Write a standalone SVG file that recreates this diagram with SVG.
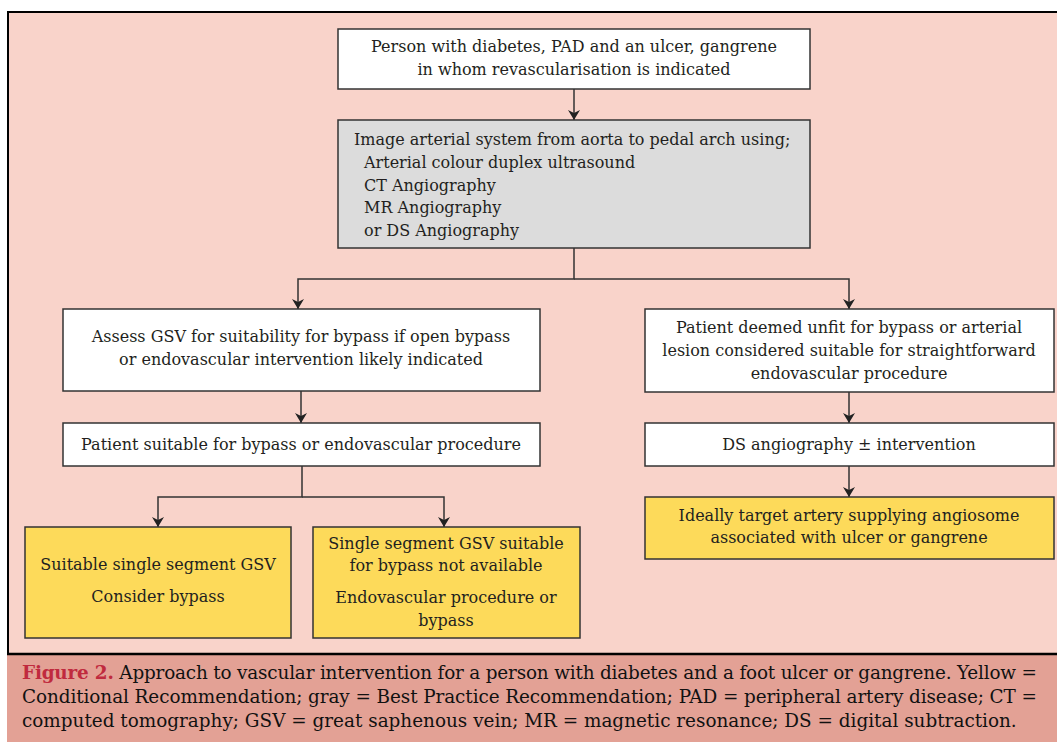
<svg xmlns="http://www.w3.org/2000/svg" width="1057" height="742" viewBox="0 0 1057 742">
<defs>
<style>
.t{font-family:"DejaVu Serif","Liberation Serif",serif;font-size:16px;fill:#231F20}
.c{text-anchor:middle}
.box{stroke:#333333;stroke-width:1.5}
.w{fill:#FFFFFF}
.g{fill:#DCDCDC}
.y{fill:#FDDA5A}
.conn{fill:none;stroke:#333333;stroke-width:1.5}
.cap{font-family:"DejaVu Serif","Liberation Serif",serif;font-size:18.4px;fill:#111}
</style>
<marker id="ah" viewBox="0 0 10 12" refX="10" refY="6" markerWidth="10" markerHeight="12" markerUnits="userSpaceOnUse" orient="auto">
<path d="M0,0 L10,6 L0,12 L3,6 Z" fill="#222222"/>
</marker>
</defs>
<rect x="0" y="0" width="1057" height="742" fill="#FFFFFF"/>
<rect x="8" y="12" width="1060" height="650" fill="#F9D3CA" stroke="#000" stroke-width="2"/>
<g id="caption">
<rect x="7" y="654" width="1060" height="100" fill="#E3A195"/>
<line x1="7" y1="654" x2="1057" y2="654" stroke="#000" stroke-width="2.5"/>
<text class="cap" x="22" y="679" textLength="1015" lengthAdjust="spacing"><tspan font-weight="bold" fill="#C02A3E">Figure 2.</tspan> Approach to vascular intervention for a person with diabetes and a foot ulcer or gangrene. Yellow =</text>
<text class="cap" x="22" y="703" textLength="1015" lengthAdjust="spacing">Conditional Recommendation; gray = Best Practice Recommendation; PAD = peripheral artery disease; CT =</text>
<text class="cap" x="22" y="727">computed tomography; GSV = great saphenous vein; MR = magnetic resonance; DS = digital subtraction.</text>
</g>
<g id="connectors">
<line class="conn" x1="574" y1="89" x2="574" y2="120" marker-end="url(#ah)"/>
<polyline class="conn" points="574,248 574,279 298,279 298,309" marker-end="url(#ah)"/>
<polyline class="conn" points="574,279 849,279 849,309" marker-end="url(#ah)"/>
<line class="conn" x1="301" y1="391" x2="301" y2="423" marker-end="url(#ah)"/>
<polyline class="conn" points="302,466 302,497 158,497 158,527" marker-end="url(#ah)"/>
<polyline class="conn" points="302,497 444,497 444,527" marker-end="url(#ah)"/>
<line class="conn" x1="849" y1="392" x2="849" y2="423" marker-end="url(#ah)"/>
<line class="conn" x1="849" y1="466" x2="849" y2="497" marker-end="url(#ah)"/>
</g>
<g id="n1">
<rect class="box w" x="338" y="29" width="472" height="60"/>
<text class="t c" x="574" y="52">Person with diabetes, PAD and an ulcer, gangrene</text>
<text class="t c" x="574" y="75">in whom revascularisation is indicated</text>
</g>
<g id="n2">
<rect class="box g" x="338" y="120" width="472" height="128"/>
<text class="t" x="354" y="145">Image arterial system from aorta to pedal arch using;</text>
<text class="t" x="364" y="168">Arterial colour duplex ultrasound</text>
<text class="t" x="364" y="191">CT Angiography</text>
<text class="t" x="364" y="213">MR Angiography</text>
<text class="t" x="364" y="236">or DS Angiography</text>
</g>
<g id="n3">
<rect class="box w" x="63" y="309" width="477" height="82"/>
<text class="t c" x="301" y="342">Assess GSV for suitability for bypass if open bypass</text>
<text class="t c" x="301" y="365">or endovascular intervention likely indicated</text>
</g>
<g id="n4">
<rect class="box w" x="63" y="423" width="477" height="43"/>
<text class="t c" x="301" y="450">Patient suitable for bypass or endovascular procedure</text>
</g>
<g id="n5">
<rect class="box y" x="25" y="527" width="266" height="111"/>
<text class="t c" x="158" y="570">Suitable single segment GSV</text>
<text class="t c" x="158" y="602">Consider bypass</text>
</g>
<g id="n6">
<rect class="box y" x="313" y="527" width="267" height="111"/>
<text class="t c" x="446" y="549">Single segment GSV suitable</text>
<text class="t c" x="446" y="571">for bypass not available</text>
<text class="t c" x="446" y="603">Endovascular procedure or</text>
<text class="t c" x="446" y="626">bypass</text>
</g>
<g id="n7">
<rect class="box w" x="645" y="309" width="409" height="83"/>
<text class="t c" x="849" y="333">Patient deemed unfit for bypass or arterial</text>
<text class="t c" x="849" y="356">lesion considered suitable for straightforward</text>
<text class="t c" x="849" y="379">endovascular procedure</text>
</g>
<g id="n8">
<rect class="box w" x="645" y="423" width="409" height="43"/>
<text class="t c" x="849" y="450">DS angiography ± intervention</text>
</g>
<g id="n9">
<rect class="box y" x="645" y="497" width="409" height="62"/>
<text class="t c" x="849" y="521">Ideally target artery supplying angiosome</text>
<text class="t c" x="849" y="543">associated with ulcer or gangrene</text>
</g>
</svg>
